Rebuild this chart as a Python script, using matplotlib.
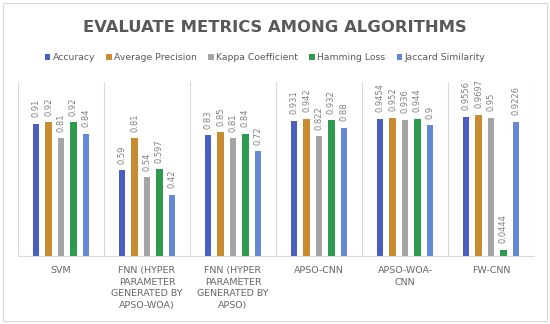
import numpy as np
import matplotlib.pyplot as plt
from matplotlib.patches import Rectangle

# Data
categories = ["SVM", "FNN (HYPER\nPARAMETER\nGENERATED BY\nAPSO-WOA)", "FNN (HYPER\nPARAMETER\nGENERATED BY\nAPSO)",
              "APSO-CNN", "APSO-WOA-\nCNN", "FW-CNN"]
series_names = ["Accuracy", "Average Precision", "Kappa Coefficient", "Hamming Loss", "Jaccard Similarity"]
accuracy = [0.91, 0.59, 0.83, 0.931, 0.9454, 0.9556]
avg_precision = [0.92, 0.81, 0.85, 0.942, 0.952, 0.9697]
kappa = [0.81, 0.54, 0.81, 0.822, 0.936, 0.95]
hamming = [0.92, 0.597, 0.84, 0.932, 0.944, 0.0444]
jaccard = [0.84, 0.42, 0.72, 0.88, 0.9, 0.9226]
label_text = [
    ["0.91", "0.59", "0.83", "0.931", "0.9454", "0.9556"],
    ["0.92", "0.81", "0.85", "0.942", "0.952", "0.9697"],
    ["0.81", "0.54", "0.81", "0.822", "0.936", "0.95"],
    ["0.92", "0.597", "0.84", "0.932", "0.944", "0.0444"],
    ["0.84", "0.42", "0.72", "0.88", "0.9", "0.9226"],
]
series = [accuracy, avg_precision, kappa, hamming, jaccard]
colors = ["#4a5fc1", "#c98b2f", "#a5a5a5", "#2e9a4e", "#6488d4"]

fig = plt.figure(figsize=(5.5, 3.24), dpi=100)
fig.patches.append(Rectangle((0.006, 0.01), 0.988, 0.98, transform=fig.transFigure,
                             fill=False, edgecolor="#d9d9d9", lw=0.8))
ax = fig.add_axes([18 / 550, 1 - 256 / 324, 516 / 550, 174.5 / 324])

x = np.arange(len(categories))
width = 0.076
offsets = np.array([-2, -1, 0, 1, 2]) * 0.145
for vals, labs, name, c, off in zip(series, label_text, series_names, colors, offsets):
    bars = ax.bar(x + off, vals, width, color=c, label=name)
    for b, t in zip(bars, labs):
        ax.text(b.get_x() + b.get_width() / 2, b.get_height() + 0.045, t, rotation=90,
                ha="center", va="bottom", fontsize=6, color="#808080")

ax.set_xlim(-0.5, len(categories) - 0.5)
ax.set_ylim(0, 1.2)
ax.set_yticks([])
ax.set_xticks(x)
ax.set_xticklabels(categories, fontsize=6.8, color="#666666", linespacing=1.4)
ax.tick_params(axis="x", length=0, pad=7)
for i in range(len(categories) + 1):
    ax.axvline(i - 0.5, color="#d9d9d9", lw=0.8)
for s in ["top", "right", "left"]:
    ax.spines[s].set_visible(False)
ax.spines["bottom"].set_color("#d9d9d9")

fig.text(0.5, 1 - 28 / 324, "EVALUATE METRICS AMONG ALGORITHMS", ha="center", va="center",
         fontsize=11.8, fontweight="bold", color="#595959")
fig.legend(loc="center", bbox_to_anchor=(0.482, 1 - 58 / 324), ncol=5, frameon=False,
           fontsize=6.7, handlelength=0.6, handleheight=0.6, handletextpad=0.25,
           columnspacing=1.2, labelcolor="#595959")

plt.savefig("out.png", dpi=100)
